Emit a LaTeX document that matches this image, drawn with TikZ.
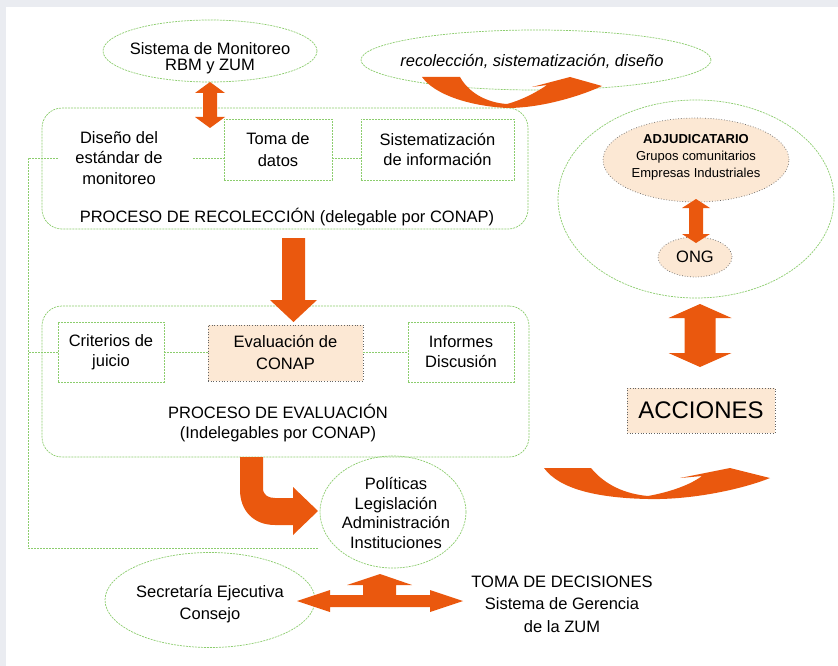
\documentclass[tikz,border=0pt]{standalone}
\usepackage{fontspec}
\setmainfont{Liberation Sans}
\usetikzlibrary{shapes.geometric}
\definecolor{lgreen}{RGB}{140,205,110}
\definecolor{orng}{RGB}{234,88,14}
\definecolor{peach}{RGB}{252,232,212}
\definecolor{bgray}{RGB}{234,236,241}
\definecolor{dgray}{RGB}{100,100,100}
\newcommand\myfs{\fontsize{16.5}{20.5}\selectfont}
\begin{document}
\begin{tikzpicture}[x=1pt,y=-1pt,
  gl/.style={draw=lgreen, line width=0.7pt, dash pattern=on 2pt off 1pt},
  gbox/.style={gl, rectangle, inner sep=0pt, align=center, font=\myfs},
  pbox/.style={draw=dgray, fill=peach, line width=0.7pt, dotted, rectangle, inner sep=0pt, align=center, font=\myfs},
  gell/.style={gl, ellipse, inner sep=0pt},
  pell/.style={draw=dgray, fill=peach, line width=0.7pt, dotted, ellipse, inner sep=0pt},
  txt/.style={align=center, inner sep=0pt, font=\myfs},
  blk/.style={fill=orng}]
\useasboundingbox (0,0) rectangle (838,666);
\fill[bgray] (0,0) rectangle (838,666);
\fill[white] (6,7) rectangle (838,666);

% ellipses top
\node[gell, minimum width=214, minimum height=62] (e1) at (210,51) {};
\node[gell, minimum width=350, minimum height=60] (e2) at (536,60) {};

% recoleccion
\node[gl, rectangle, rounded corners=20, minimum width=486, minimum height=121, inner sep=0pt] (rec) at (285,168.5) {};
\node[gbox, minimum width=108, minimum height=61, font=\fontsize{16.5}{22}\selectfont] (toma) at (278,149.5) {Toma de\\datos};
\node[gbox, minimum width=153, minimum height=61, font=\fontsize{16.5}{20}\selectfont] (sist) at (437.5,149.5) {Sistematización\\de información};
\node[txt] (dis) at (119,158) {Diseño del\\estándar de\\monitoreo};
\node[txt] (reclab) at (287,217) {PROCESO DE RECOLECCIÓN (delegable por CONAP)};
\coordinate (disR) at (193,158);
\coordinate (disL) at (58,158);
\coordinate (lx) at (28,158);
\coordinate (lb) at (318,548);

% evaluacion
\node[gl, rectangle, rounded corners=20, minimum width=487, minimum height=151, inner sep=0pt] (ev) at (285.5,381.5) {};
\node[gbox, minimum width=106, minimum height=60, font=\fontsize{16.5}{20}\selectfont] (crit) at (111,352) {Criterios de\\juicio};
\node[pbox, minimum width=155, minimum height=56, font=\fontsize{16.5}{22}\selectfont] (evc) at (285.5,353) {Evaluación de\\CONAP};
\node[gbox, minimum width=106, minimum height=60, font=\fontsize{16.5}{20}\selectfont] (inf) at (461,352) {Informes\\Discusión};
\node[txt, font=\fontsize{16.5}{20}\selectfont] (evlab) at (278,423) {PROCESO DE EVALUACIÓN\\(Indelegables por CONAP)};

% connectors
\draw[gl] (disR) -- (disR -| toma.west);
\draw[gl] (toma.east |- disR) -- (sist.west |- disR);
\draw[gl] (crit.east) -- (crit.east -| evc.west);
\draw[gl] (evc.east |- crit.east) -- (inf.west);
\draw[gl] (disL) -- (lx) |- (lb);
\draw[gl] (crit.west) -- (crit.west -| lx);

% lower ellipses
\node[gell, minimum width=146, minimum height=112] (pol) at (393,512) {};
\node[txt, font=\fontsize{16.5}{19.7}\selectfont] (polt) at (396,513) {Políticas\\Legislación\\Administración\\Instituciones};
\node[gell, minimum width=210, minimum height=95] (sec) at (210,600) {};
\node[txt, font=\fontsize{16.5}{22}\selectfont] (sect) at (210,604) {Secretaría Ejecutiva\\Consejo};
\node[txt, font=\fontsize{16.5}{22.5}\selectfont] (tdec) at (562,604) {TOMA DE DECISIONES\\Sistema de Gerencia\\de la ZUM};

% right side
\node[gell, minimum width=276, minimum height=198] (big) at (696,199) {};
\node[pell, minimum width=186, minimum height=84] (adj) at (696,160) {};
\node[txt, font=\fontsize{13}{17}\selectfont] (adjt) at (696,157) {\textbf{ADJUDICATARIO}\\Grupos comunitarios\\Empresas Industriales};
\node[pell, minimum width=74, minimum height=40, font=\myfs] (ong) at (695,257) {ONG};
\node[pbox, minimum width=148, minimum height=45, font=\fontsize{24}{28}\selectfont] (acc) at (701,410.5) {ACCIONES};

% block arrows
\fill[blk] (210,82) -- (225,93) -- (217,93) -- (217,117) -- (225,117) -- (210,128) -- (195,117) -- (203,117) -- (203,93) -- (195,93) -- cycle;
\fill[blk] (696,199) -- (710,208) -- (703,208) -- (703,234) -- (710,234) -- (696,243) -- (682,234) -- (689,234) -- (689,208) -- (682,208) -- cycle;
\fill[blk] (700,304) -- (731.5,318) -- (715.5,318) -- (715.5,353) -- (731.5,353) -- (700,367) -- (668.5,353) -- (684.5,353) -- (684.5,318) -- (668.5,318) -- cycle;
\fill[blk] (282,238) -- (305,238) -- (305,300) -- (317,300) -- (293.5,322) -- (270,300) -- (282,300) -- cycle;
\fill[blk] (240,457) -- (263,457) -- (263,488) .. controls (263,495) and (268,498) .. (275,498) -- (293,498) -- (293,487) -- (318,511) -- (293,535) -- (293,525) -- (275,525) .. controls (253,525) and (240,510) .. (240,490) -- cycle;
\fill[blk] (297,601) -- (330,590) -- (330,595) -- (363,595) -- (363,585) -- (347,585) -- (380,574) -- (412,585) -- (396,585) -- (396,595) -- (430,595) -- (430,590) -- (463,601) -- (430,612) -- (430,607) -- (330,607) -- (330,612) -- cycle;
\fill[blk] (422,77) -- (460,77) .. controls (470,95) and (490,103) .. (507,104) .. controls (522,100) and (537,92) .. (547,85) -- (532,87) -- (570,77) -- (602,86) .. controls (585,94) and (545,108) .. (507,108) .. controls (470,106) and (435,95) .. (422,77) -- cycle;
\fill[blk] (544,468) -- (591,468) .. controls (605,485) and (625,494) .. (648,496) .. controls (670,492) and (690,485) .. (702,476) -- (680,478) -- (730,468) -- (770,478) .. controls (740,490) and (690,500) .. (648,499) .. controls (600,498) and (560,490) .. (544,468) -- cycle;

% texts on top
\node[txt, font=\fontsize{16.5}{16}\selectfont] (t1) at (210,58) {Sistema de Monitoreo\\RBM y ZUM};
\node[txt, font=\itshape\fontsize{16.5}{20}\selectfont] (t2) at (532,61) {recolección, sistematización, diseño};
\end{tikzpicture}
\end{document}
